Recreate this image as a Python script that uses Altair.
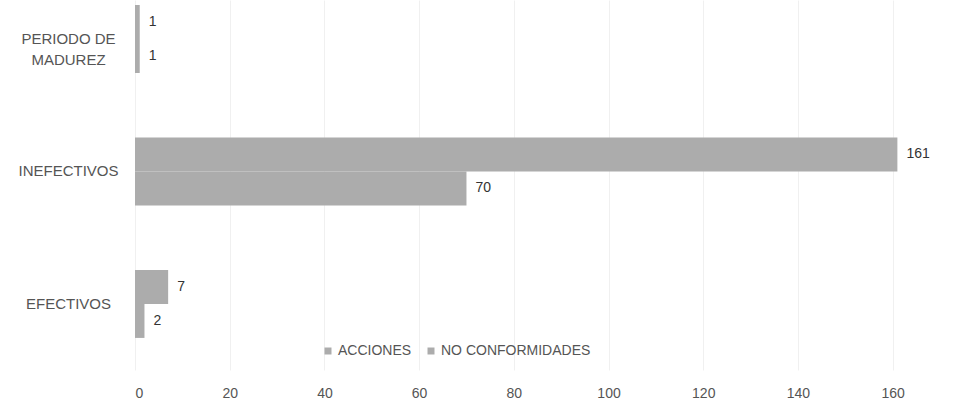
import altair as alt
import pandas as pd

# Categories (top to bottom) and the two series
categories = ["PERIODO DE MADUREZ", "INEFECTIVOS", "EFECTIVOS"]
series = ["ACCIONES", "NO CONFORMIDADES"]
acciones = [1, 70, 2]
no_conformidades = [1, 161, 7]
x_ticks = [0, 20, 40, 60, 80, 100, 120, 140, 160]

rows = []
for cat, a, n in zip(categories, acciones, no_conformidades):
    rows.append({"categoria": cat, "serie": "ACCIONES", "valor": a})
    rows.append({"categoria": cat, "serie": "NO CONFORMIDADES", "valor": n})
df = pd.DataFrame(rows)

FONT = "Liberation Sans"
GRAY = "#acacac"

y_enc = alt.Y(
    "categoria:N",
    sort=categories,
    scale=alt.Scale(paddingInner=0.487, paddingOuter=0.14, align=0.135),
    axis=alt.Axis(
        title=None,
        ticks=False,
        domain=False,
        labelAlign="center",
        labelPadding=67,
        labelFont=FONT,
        labelFontSize=15,
        labelColor="#555555",
        labelLineHeight=21,
        labelExpr="datum.label == 'PERIODO DE MADUREZ' ? ['PERIODO DE', 'MADUREZ'] : datum.label",
    ),
)
yoff_enc = alt.YOffset(
    "serie:N",
    sort=["NO CONFORMIDADES", "ACCIONES"],
    scale=alt.Scale(paddingInner=0, paddingOuter=0),
)
x_enc = alt.X(
    "valor:Q",
    scale=alt.Scale(domain=[0, 170], nice=False),
    axis=alt.Axis(
        title=None,
        values=x_ticks,
        ticks=False,
        domain=False,
        grid=True,
        gridColor="#f0f0f0",
        gridWidth=1,
        labelFont=FONT,
        labelFontSize=14,
        labelColor="#555555",
        labelPadding=16,
    ),
)

bars = alt.Chart(df).mark_bar(size=34).encode(
    x=x_enc,
    y=y_enc,
    yOffset=yoff_enc,
    color=alt.Color(
        "serie:N",
        scale=alt.Scale(domain=series, range=[GRAY, GRAY]),
        legend=alt.Legend(
            title=None,
            orient="none",
            legendX=186,
            legendY=344,
            direction="horizontal",
            symbolType="square",
            symbolSize=49,
            symbolStrokeWidth=0,
            labelFont=FONT,
            labelFontSize=14,
            labelColor="#555555",
            labelOffset=3,
            columnPadding=12,
        ),
    ),
)

labels = alt.Chart(df).mark_text(
    align="left", baseline="middle", dx=9, font=FONT, fontSize=14, color="#333333"
).encode(
    x="valor:Q",
    y=alt.Y("categoria:N", sort=categories),
    yOffset=alt.YOffset("serie:N", sort=["NO CONFORMIDADES", "ACCIONES"]),
    text="valor:Q",
)

chart = (
    alt.layer(bars, labels)
    .properties(
        width=805,
        height=370,
        autosize=alt.AutoSizeParams(type="none"),
        padding={"left": 135, "top": 0, "right": 17, "bottom": 37},
        background="white",
    )
    .configure_view(stroke=None)
)

chart.save("out.html", embed_options={"renderer": "svg", "actions": False})
